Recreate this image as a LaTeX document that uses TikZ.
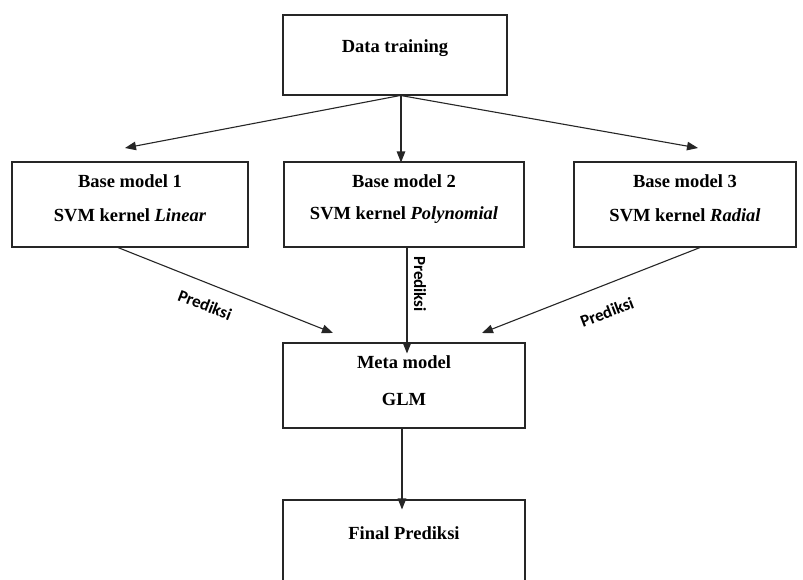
\documentclass[tikz,border=0pt]{standalone}
\usepackage{fontspec}
\setmainfont{Liberation Serif}
\newfontfamily\lblfont{Carlito}
\usetikzlibrary{arrows.meta}
\begin{document}
\begin{tikzpicture}[x=1pt,y=-1pt,
  box/.style={draw=black!85,line width=1.1pt,inner sep=0pt,fill=white},
  txt/.style={font=\fontsize{18.5}{22}\selectfont\bfseries,inner sep=0pt},
  lbl/.style={font=\fontsize{17}{20}\lblfont\bfseries,inner sep=0pt},
  conn/.style={draw=black!85,line width=1.1pt,-{Triangle[length=11pt,width=8.5pt]}}]
\clip (0,0) rectangle (803,579);
\fill[white] (0,0) rectangle (803,579);
% boxes
\node[box,minimum width=224pt,minimum height=80pt] (dt) at (395,55) {};
\node[box,minimum width=236pt,minimum height=85pt] (b1) at (130,204.5) {};
\node[box,minimum width=240pt,minimum height=85pt] (b2) at (404,204.5) {};
\node[box,minimum width=222pt,minimum height=85pt] (b3) at (685,204.5) {};
\node[box,minimum width=242pt,minimum height=85pt] (meta) at (404,385.5) {};
\node[box,minimum width=242pt,minimum height=100pt] (fin) at (404,550) {};
% texts
\node[txt] (tdt) at (395,48) {Data training};
\node[txt] (t1a) at (130,181) {Base model 1};
\node[txt] (t1b) at (130,215) {SVM kernel \textit{Linear}};
\node[txt] (t2a) at (404,181) {Base model 2};
\node[txt] (t2b) at (404,215) {SVM kernel \textit{Polynomial}};
\node[txt] (t3a) at (685,181) {Base model 3};
\node[txt] (t3b) at (685,215) {SVM kernel \textit{Radial}};
\node[txt] (tma) at (404,362) {Meta model};
\node[txt] (tmb) at (404,399) {GLM};
\node[txt] (tfin) at (404,533) {Final Prediksi};
% arrow ends
\coordinate (e1) at (125,148);
\coordinate (e3) at (698,148);
\coordinate (m1) at (333,333);
\coordinate (m3) at (482,333);
% connectors
\draw[conn] ([xshift=5pt]dt.south) -- (e1);
\draw[conn] ([xshift=6pt]dt.south) -- ([xshift=-3pt,yshift=-1pt]b2.north);
\draw[conn] ([xshift=6pt]dt.south) -- (e3);
\draw[conn] ([xshift=-12pt]b1.south) -- (m1);
\draw[conn] ([xshift=3pt]b2.south) -- ([xshift=3pt,yshift=-11pt]meta.north);
\draw[conn] ([xshift=15pt]b3.south) -- (m3);
\draw[conn] ([xshift=-2pt]meta.south) -- ([xshift=-2pt,yshift=-10pt]fin.north);
% labels
\node[lbl,rotate=-21] (l1) at (205,305) {Prediksi};
\node[lbl,rotate=-90] (l2) at (420,284) {Prediksi};
\node[lbl,rotate=21] (l3) at (607,312) {Prediksi};
\end{tikzpicture}
\end{document}
